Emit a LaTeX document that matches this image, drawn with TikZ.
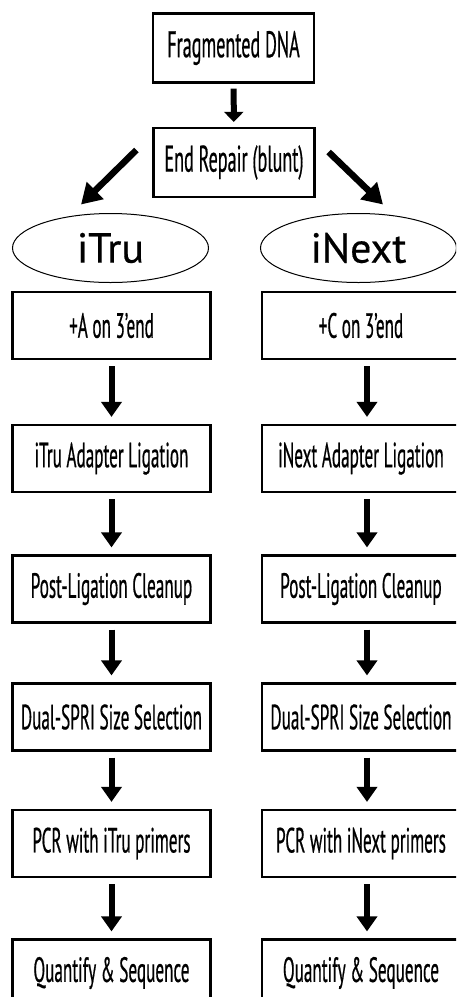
\documentclass[tikz,border=0pt]{standalone}
\usepackage{fontspec}
\usepackage{tikz}
\usetikzlibrary{shapes.geometric,arrows.meta}
\newfontfamily\stagefont{PT Sans}[FakeStretch=0.49,FakeBold=0.5]
\newfontfamily\kitfont{PT Sans}[FakeBold=0.4]
\def \BoxW {198}
\def \BoxH {67}
\tikzstyle{stage}=[
  draw=black,
  line width=2.2pt,
  minimum width=\BoxW,
  minimum height=\BoxH,
  inner sep=0pt,
  font={\stagefont\fontsize{35}{35}\selectfont}
]
\tikzstyle{topstage}=[
  stage,
  minimum width=161,
  minimum height=69,
  font={\stagefont\fontsize{37}{37}\selectfont}
]
\tikzstyle{kit}=[
  draw=black,
  ellipse,
  line width=1pt,
  minimum width=196,
  minimum height=69,
  inner sep=0pt,
  font={\kitfont\fontsize{42}{42}\selectfont}
]
\tikzstyle{flow}=[
  line width=6pt,
  -{Triangle[width=20pt,length=15pt]}
]

\begin{document}
\begin{tikzpicture}[x=1pt,y=-1pt]
          \useasboundingbox (0,0) rectangle (456,997);
          \clip (0,0) rectangle (456,997);
          \def \xL {111.5}
          \def \xR {361}

          \node[topstage] (frag) at (233.5, 48) {Fragmented DNA};
          \node[topstage] (rep) at (234, 162.5) {End Repair (blunt)};

          \node[kit] (itru) at (110.5, 248) {iTru};
          \node[kit] (inext) at (358.5, 248) {iNext};

          \node[stage] (l1) at (\xL, 325.5) {+A on 3’end};
          \node[stage] (l2) at (\xL, 458.5) {iTru Adapter Ligation};
          \node[stage] (l3) at (\xL, 589) {Post-Ligation Cleanup};
          \node[stage] (l4) at (\xL, 717) {Dual-SPRI Size Selection};
          \node[stage] (l5) at (\xL, 843.5) {PCR with iTru primers};
          \node[stage] (l6) at (\xL, 973) {Quantify \& Sequence};

          \node[stage] (r1) at (\xR, 325.5) {+C on 3’end};
          \node[stage] (r2) at (\xR, 458.5) {iNext Adapter Ligation};
          \node[stage] (r3) at (\xR, 589) {Post-Ligation Cleanup};
          \node[stage] (r4) at (\xR, 717) {Dual-SPRI Size Selection};
          \node[stage] (r5) at (\xR, 843.5) {PCR with iNext primers};
          \node[stage] (r6) at (\xR, 973) {Quantify \& Sequence};

          \draw[line width=6pt, -{Triangle[width=19pt,length=10pt]},
            shorten <=5pt, shorten >=5pt] (frag) -- (rep);
          \draw[line width=6.5pt, -{Triangle[width=23pt,length=20pt]}]
            ([shift={(-16,-12.5)}]rep.west) -- ([shift={(-29.5,-8.5)}]itru.north);
          \draw[line width=6.5pt, -{Triangle[width=23pt,length=20pt]}]
            ([shift={(13,-10.5)}]rep.east) -- ([shift={(24.5,-8.5)}]inext.north);

          \foreach \i/\j in {1/2,2/3,3/4,4/5,5/6}{
            \draw[flow, shorten <=6pt, shorten >=7pt] (l\i) -- (l\j);
            \draw[flow, shorten <=6pt, shorten >=7pt]
              ([xshift=6pt]r\i.south) -- ([xshift=6pt]r\j.north);
          }
        \end{tikzpicture}
\end{document}
